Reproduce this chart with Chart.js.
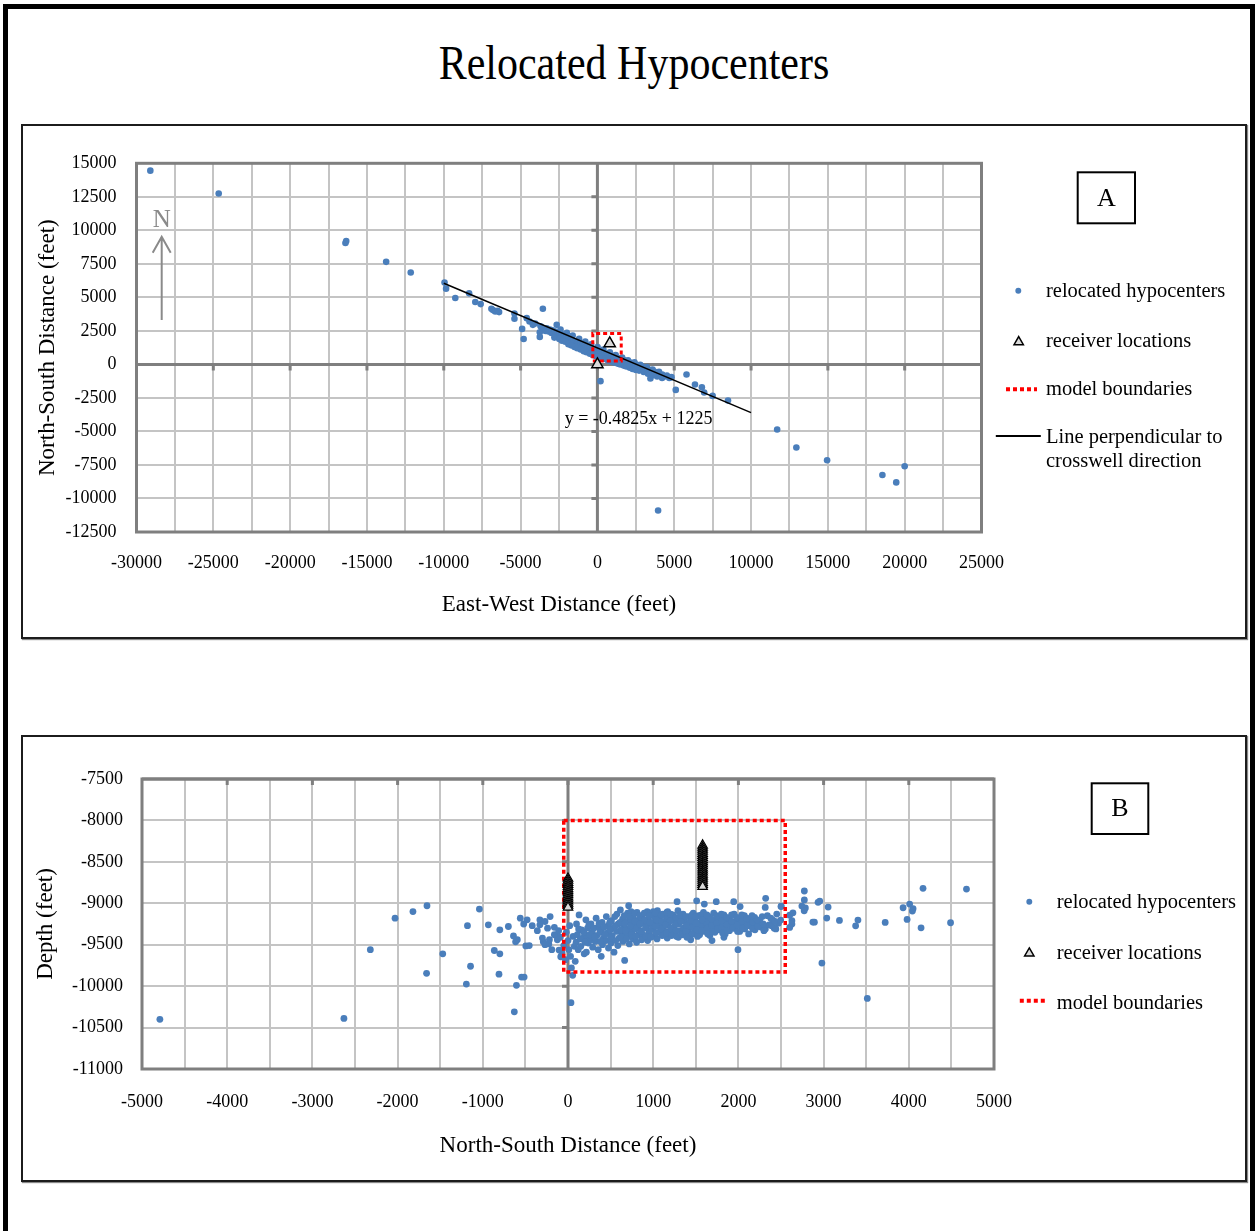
<!DOCTYPE html>
<html>
<head>
<meta charset="utf-8">
<title>Relocated Hypocenters</title>
<script src="https://cdn.jsdelivr.net/npm/chart.js@4.4.1/dist/chart.umd.min.js"></script>
<style>
  html, body { margin: 0; padding: 0; background: #fff; }
  body { width: 1257px; height: 1231px; position: relative; overflow: hidden;
         font-family: 'Liberation Serif', 'Times New Roman', serif; }
  #frame { position: absolute; left: 3px; top: 4px; width: 1252px; height: 1300px;
           border: 5px solid #000; border-bottom: none; box-sizing: border-box; }
  #title { position: absolute; left: 0; width: 1268px; top: 44px; text-align: center;
           font-size: 42px; line-height: 42px; color: #000;
           transform-origin: 50% 35px; transform: scaleY(1.15); }
  .panel { position: absolute; left: 21px; width: 1226px; border: 2px solid #1c1c1c;
           box-sizing: border-box; box-shadow: 1px 1px 1px #888; }
  #panelA { top: 124px; height: 515px; }
  #panelB { top: 735px; height: 447px; }
  canvas { position: absolute; left: 24px; }
  #planView { top: 127px; }
  #sectionView { top: 737px; }
</style>
</head>
<body>
<div id="frame"></div>
<div id="title">Relocated Hypocenters</div>
<div class="panel" id="panelA"></div>
<div class="panel" id="panelB"></div>
<canvas id="planView" width="1220" height="509"></canvas>
<canvas id="sectionView" width="1220" height="442"></canvas>
<script>
// ---------- Plan view (A): East-West vs North-South distance, feet ----------
const ewGrid = [-30000,-27500,-25000,-22500,-20000,-17500,-15000,-12500,-10000,-7500,-5000,-2500,0,2500,5000,7500,10000,12500,15000,17500,20000,22500,25000];
const ewLabels = [-30000,-25000,-20000,-15000,-10000,-5000,0,5000,10000,15000,20000,25000];
const nsTicksA = [15000,12500,10000,7500,5000,2500,0,-2500,-5000,-7500,-10000,-12500];

// relocated hypocenters [east-west, north-south]
const planHypocenters = [
  [-29100,14450],[-24650,12750],[-16400,9050],[-16350,9200],[-13750,7650],[-12150,6850],
  [-9950,6100],[-9850,5650],[-9250,4950],[-8350,5300],[-7950,4650],[-7600,4500],
  [-6900,4150],[-6800,4050],[-6650,3950],[-6500,4000],[-6400,3900],
  [-5400,3800],[-5400,3400],[-4900,2650],[-4800,1900],[-4600,3450],[-4420,3200],[-4200,2950],[-4050,3050],
  [-3550,4150],[-3750,2400],[-3750,2050],[-2650,2950],[-3700,2850],
  [-3600,2750],[-3480,2650],[-3380,2500],[-3300,2700],[-3180,2450],[-3090,2600],[-2990,2350],[-2920,2550],
  [-2840,2300],[-2760,2450],[-2690,2200],[-2600,2400],[-2520,2150],[-2440,2300],[-2380,2050],[-2300,2250],
  [-2210,2000],[-2150,2150],[-2060,1900],[-2000,2050],[-1940,1800],[-1880,1950],[-1820,1720],[-1760,1880],
  [-1700,1650],[-1640,1800],[-1590,1580],[-1530,1740],[-1470,1520],[-1420,1680],[-1360,1460],[-1300,1620],
  [-1250,1400],[-1190,1560],[-1130,1350],[-1080,1500],[-1020,1280],[-960,1450],[-910,1230],[-850,1390],
  [-800,1180],[-740,1340],[-690,1130],[-630,1290],[-580,1080],[-520,1240],[-460,1040],[-410,1190],
  [-350,990],[-300,1150],[-240,940],[-190,1100],[-130,900],[-80,1060],[-20,850],[30,1010],
  [80,800],[140,960],[190,760],[250,910],[300,710],[360,870],[410,660],[470,820],
  [520,610],[580,780],[630,560],[690,730],[740,510],[800,690],[850,470],[910,640],
  [960,420],[1020,600],[1070,370],[1130,550],[1180,330],[1240,500],[1290,280],[1350,460],
  [1400,240],[1460,410],[1510,190],[1570,370],[1620,150],[1680,320],[1730,100],[1790,280],
  [1850,60],[1900,230],[1960,10],[2020,190],[2080,-40],[2140,140],[2210,-90],[2280,90],
  [2350,-130],[2420,40],[2490,-180],[2560,-20],[2640,-230],[2720,-80],[2800,-280],[2890,-150],
  [2980,-330],[3070,-230],[3160,-420],[3260,-330],[3360,-520],[3470,-430],[3580,-620],[3700,-540],
  [3820,-720],[3950,-640],[4080,-820],[4220,-760],[4380,-900],[4520,-840],[4680,-1010],[4820,-950],
  [-2800,2000],[-2480,1900],[-2310,1760],[-2090,1690],[-1890,1510],[-1710,1420],[-1490,1300],[-1310,1210],
  [-1090,1110],[-890,990],[-710,910],[-490,800],[-310,710],[-90,600],[110,560],[290,450],
  [510,400],[690,300],[910,210],[1090,140],[1310,60],[1490,0],[1710,-90],[1890,-160],
  [2110,-250],[2290,-340],[2510,-410],[2710,-460],[3010,-560],[3290,-690],[3610,-800],[3890,-900],[4210,-1010],
  [-2400,2600],[-1990,2360],[-1610,2160],[-1190,1910],[-790,1710],[-410,1500],[10,1300],[390,1110],
  [810,900],[1190,700],[1610,510],[1990,310],[2410,160],[2790,-20],[3210,-200],[3590,-380],[4010,-560],
  [200,-1250],[3450,-1050],[5100,-1900],[5800,-750],[6350,-1500],[6800,-1700],[6950,-2100],
  [7500,-2350],[8500,-2700],[11700,-4850],[12950,-6200],[14950,-7150],[18550,-8250],
  [19450,-8800],[20000,-7600],[3950,-10900]
];
const planReceivers = [[0, 0], [800, 1560]];
const planModelEW = [-300, 1550];
const planModelNS = [250, 2300];
// trendline stated on the chart: y = -0.4825x + 1225
const trendSlope = -0.4825;
const trendIntercept = 1225;
const trendEW = [-10000, 10000];
const equationAnchor = [-2130, -4080];
const legendTextA = ['relocated hypocenters', 'receiver locations', 'model boundaries',
                     ['Line perpendicular to', 'crosswell direction']];

// ---------- Cross section (B): North-South distance vs depth, feet ----------
const nsGridB = [-5000,-4500,-4000,-3500,-3000,-2500,-2000,-1500,-1000,-500,0,500,1000,1500,2000,2500,3000,3500,4000,4500,5000];
const nsLabelsB = [-5000,-4000,-3000,-2000,-1000,0,1000,2000,3000,4000,5000];
const depthTicks = [-7500,-8000,-8500,-9000,-9500,-10000,-10500,-11000];

// relocated hypocenters [north-south, depth]
const sectionHypocenters = [
  [-4790,-10400],[-2630,-10390],[-2320,-9560],[-2030,-9180],[-1820,-9100],[-1655,-9030],[-1660,-9845],
  [-1470,-9610],[-1180,-9270],[-1144,-9760],[-1193,-9975],[-1040,-9070],[-935,-9260],[-865,-9570],
  [-810,-9855],[-800,-9610],[-800,-9320],[-700,-9280],[-640,-9395],[-615,-9465],[-595,-9440],
  [-630,-10310],[-605,-9990],[-545,-9890],[-515,-9890],[-495,-9515],[-455,-9510],[-480,-9200],
  [-560,-9180],[-520,-9250],[-420,-9270],[-360,-9330],[-330,-9200],[-290,-9465],[-270,-9220],
  [-225,-9490],[-218,-9440],[-210,-9160],[-160,-9290],[-145,-9385],[-125,-9440],[-105,-9565],[-85,-9645],
  [-330,-9260],[-300,-9420],[-270,-9500],[-240,-9300],[-190,-9560],[-160,-9380],[-110,-9330],
  [-90,-9410],[-70,-9600],[-50,-9510],[-30,-9680],[-20,-9350],[0,-9450],[10,-9560],[20,-9270],
  [30,-9640],[40,-9780],[55,-9870],[35,-10200],[60,-9400],[75,-9520],[85,-9700],
  [100,-9250],[110,-9380],[95,-9470],[120,-9560],[130,-9140],
  [160,-9320],[175,-9420],[150,-9520],[190,-9610],
  [210,-9200],[230,-9300],[220,-9400],[240,-9480],[215,-9590],
  [270,-9250],[285,-9350],[260,-9440],[290,-9530],
  [330,-9180],[350,-9290],[340,-9390],[320,-9460],[355,-9560],
  [400,-9230],[390,-9330],[415,-9420],[405,-9500],[390,-9640],
  [450,-9160],[470,-9270],[460,-9360],[445,-9450],[475,-9540],
  [510,-9210],[530,-9300],[520,-9390],[505,-9480],[540,-9590],
  [575,-9130],[590,-9250],[570,-9340],[600,-9420],[585,-9510],
  [615,-9080],[640,-9190],[655,-9280],[630,-9370],[645,-9460],[665,-9690],
  [700,-9120],[690,-9220],[715,-9310],[705,-9400],[720,-9490],[712,-9030],
  [760,-9170],[775,-9260],[750,-9350],[765,-9430],
  [810,-9110],[830,-9200],[815,-9290],[825,-9380],[805,-9470],
  [870,-9150],[885,-9240],[860,-9330],[890,-9410],
  [930,-9100],[945,-9190],[920,-9280],[950,-9360],[935,-9450],
  [990,-9140],[1010,-9230],[995,-9310],[1005,-9400],
  [1050,-9090],[1070,-9180],[1055,-9270],[1065,-9350],[1045,-9430],
  [1110,-9130],[1130,-9220],[1115,-9300],[1125,-9380],
  [1170,-9100],[1190,-9170],[1175,-9260],[1185,-9340],[1165,-9420],
  [1230,-9140],[1250,-9210],[1235,-9290],[1245,-9370],[1280,-8980],
  [1290,-9090],[1310,-9180],[1300,-9250],[1315,-9330],[1295,-9410],
  [1350,-9130],[1370,-9220],[1355,-9300],[1365,-9370],
  [1410,-9160],[1430,-9240],[1415,-9320],[1425,-9390],[1440,-9440],
  [1470,-9120],[1490,-9200],[1475,-9280],[1485,-9350],[1510,-8970],
  [1530,-9150],[1550,-9230],[1535,-9310],[1545,-9380],
  [1590,-9110],[1610,-9190],[1595,-9270],[1605,-9340],[1600,-9010],
  [1650,-9160],[1670,-9240],[1655,-9310],[1665,-9390],[1690,-9450],
  [1710,-9120],[1730,-9210],[1715,-9280],[1725,-9350],[1740,-8980],
  [1770,-9170],[1790,-9250],[1775,-9320],
  [1830,-9140],[1850,-9220],[1835,-9300],[1845,-9370],[1830,-9410],
  [1890,-9180],[1910,-9260],[1895,-9330],[1945,-8980],
  [1950,-9130],[1970,-9230],[1955,-9300],[1995,-9560],
  [2010,-9190],[2030,-9270],[2015,-9340],[2020,-9040],
  [2070,-9150],[2090,-9240],[2075,-9310],
  [2130,-9200],[2150,-9280],[2120,-9370],
  [2190,-9170],[2210,-9250],[2195,-9320],
  [2250,-9220],[2270,-9290],[2320,-8940],[2315,-9050],[2316,-9310],
  [2340,-9150],[2360,-9260],[2400,-9200],[2420,-9300],[2450,-9130],[2470,-9240],[2500,-9040],
  [730,-9230],[790,-9310],[850,-9190],[905,-9250],[960,-9330],[1020,-9170],[1080,-9250],
  [1140,-9340],[1200,-9210],[1260,-9260],[1330,-9190],[1390,-9270],[1450,-9200],[1560,-9270],
  [1620,-9230],[680,-9360],[740,-9100],[880,-9380],[1000,-9100],[1150,-9150],[980,-9260],[1090,-9310],
  [125,-9310],[145,-9430],[185,-9350],[200,-9470],[245,-9260],[255,-9380],[300,-9300],[310,-9410],
  [365,-9240],[375,-9350],[380,-9460],[425,-9290],[435,-9380],[490,-9230],[495,-9320],[500,-9420],
  [550,-9160],[555,-9270],[560,-9450],[610,-9230],[620,-9320],[625,-9410],[660,-9150],[670,-9240],
  [675,-9330],[685,-9430],[725,-9160],[735,-9270],[745,-9380],[780,-9120],[785,-9220],[795,-9400],
  [840,-9150],[845,-9250],[855,-9340],[865,-9440],[895,-9120],[900,-9200],[910,-9300],[915,-9400],
  [955,-9150],[965,-9230],[970,-9410],[1025,-9120],[1030,-9280],[1035,-9360],[1040,-9200],[1095,-9140],
  [1100,-9220],[1105,-9390],[1145,-9260],[1155,-9360],[1160,-9110],[1205,-9130],[1210,-9300],[1215,-9390],
  [1265,-9170],[1270,-9330],[1275,-9400],[1320,-9140],[1325,-9220],[1340,-9380],[1380,-9160],[1385,-9340],
  [1395,-9410],[1455,-9140],[1460,-9290],[1465,-9370],[1500,-9160],[1505,-9240],[1515,-9320],[1520,-9400],
  [1565,-9140],[1570,-9330],[1575,-9200],[1630,-9140],[1635,-9300],[1640,-9370],[1680,-9190],[1685,-9270],
  [1695,-9340],[1745,-9150],[1750,-9240],[1755,-9310],[1800,-9130],[1805,-9210],[1810,-9290],[1815,-9360],
  [1860,-9170],[1865,-9260],[1870,-9330],[1920,-9140],[1925,-9220],[1930,-9300],[1980,-9170],[1985,-9260],
  [1990,-9340],[2040,-9140],[2045,-9220],[2050,-9300],[2100,-9180],[2105,-9270],[2160,-9150],[2165,-9230],
  [2170,-9310],[2220,-9200],[2230,-9280],[2280,-9160],[2290,-9250],[2300,-9330],[2380,-9180],[2390,-9270],
  [2430,-9220],[2440,-9310],
  [2503,-9034],[2602,-9143],[2640,-9115],[2628,-9211],[2628,-9251],[2602,-9291],[2496,-9203],
  [2774,-8852],[2774,-8960],[2935,-8988],[2892,-9228],[2786,-9056],[2955,-8973],[2745,-9034],
  [2772,-9090],[3053,-9046],[3037,-9179],[2874,-9227],[3186,-9207],[3403,-9203],[3376,-9272],
  [3723,-9231],[3933,-9054],[4010,-9010],[4050,-9066],[4042,-9094],[3980,-9195],[4144,-9296],
  [4167,-8820],[4490,-9235],[4677,-8828],[2980,-9722],[3513,-10148]
];
// receiver strings in the two wells [north-south position, depths]
const westWellNS = 0;
const westWellDepths = [-8700,-8725,-8750,-8775,-8800,-8825,-8850,-8875,-8900,-8925,-8950,-8975,-9000,-9025,-9050];
const eastWellNS = 1580;
const eastWellDepths = [-8300,-8325,-8350,-8375,-8400,-8425,-8450,-8475,-8500,-8525,-8550,-8575,-8600,-8625,-8650,-8675,-8700,-8725,-8750,-8775,-8800];
const sectionModelNS = [-50, 2550];
const sectionModelDepth = [-8000, -9830];
const legendTextB = ['relocated hypocenters', 'receiver locations', 'model boundaries'];

// ---------- shared styling ----------
const SERIF = "'Liberation Serif', 'Times New Roman', serif";
const DOT = '#4a7ebb';
const GRID = '#c4c4c4';
const AXIS = '#7f7f7f';

const toXY = pts => pts.map(([x, y]) => ({x, y}));
const rectPath = (xr, yr) => [
  {x: xr[0], y: yr[0]}, {x: xr[1], y: yr[0]}, {x: xr[1], y: yr[1]},
  {x: xr[0], y: yr[1]}, {x: xr[0], y: yr[0]}
];

// Axis lines through the origin, their tick marks, and the plot-area frame
const crossAxes = {
  id: 'crossAxes',
  beforeDatasetsDraw(chart, args, o) {
    const {ctx, chartArea: a, scales: {x, y}} = chart;
    ctx.save();
    ctx.strokeStyle = AXIS;
    ctx.lineWidth = 3;
    const hy = y.getPixelForValue(o.xAxisAt);
    const vx = x.getPixelForValue(o.yAxisAt);
    ctx.beginPath();
    ctx.moveTo(a.left, hy); ctx.lineTo(a.right, hy);
    ctx.moveTo(vx, a.top); ctx.lineTo(vx, a.bottom);
    ctx.stroke();
    ctx.beginPath();
    o.xMarks.forEach(v => { const px = x.getPixelForValue(v); ctx.moveTo(px, hy); ctx.lineTo(px, hy + 6); });
    o.yMarks.forEach(v => { const py = y.getPixelForValue(v); ctx.moveTo(vx - 6, py); ctx.lineTo(vx, py); });
    ctx.stroke();
    ctx.strokeRect(a.left, a.top, a.right - a.left, a.bottom - a.top);
    ctx.restore();
  }
};

function drawMarker(ctx, ds, x, y, w, r) {
  ctx.save();
  if (ds.showLine) {
    ctx.strokeStyle = ds.borderColor;
    ctx.lineWidth = ds.legendLineWidth || ds.borderWidth;
    ctx.setLineDash(ds.borderDash || []);
    ctx.beginPath(); ctx.moveTo(x - w / 2, y); ctx.lineTo(x + w / 2, y); ctx.stroke();
  } else if (ds.pointStyle === 'triangle') {
    ctx.fillStyle = ds.backgroundColor; ctx.strokeStyle = ds.borderColor; ctx.lineWidth = 1.5;
    ctx.beginPath();
    ctx.moveTo(x, y - r);
    ctx.lineTo(x + r * 0.866, y + r * 0.5);
    ctx.lineTo(x - r * 0.866, y + r * 0.5);
    ctx.closePath(); ctx.fill(); ctx.stroke();
  } else {
    ctx.fillStyle = ds.backgroundColor;
    ctx.beginPath(); ctx.arc(x, y, r * 0.55, 0, Math.PI * 2); ctx.fill();
  }
  ctx.restore();
}

// Panel tag, side legend, north arrow and equation label
const panelDecor = {
  id: 'panelDecor',
  afterDraw(chart, args, o) {
    const {ctx, scales: {x, y}} = chart;
    ctx.save();
    // panel tag
    const t = o.tag;
    ctx.strokeStyle = '#000'; ctx.lineWidth = 2;
    ctx.strokeRect(t.x, t.y, t.w, t.h);
    ctx.fillStyle = '#000';
    ctx.font = `26px ${SERIF}`;
    ctx.textAlign = 'center'; ctx.textBaseline = 'middle';
    ctx.fillText(t.text, t.x + t.w / 2, t.y + t.h / 2 + 1);
    // legend entries
    ctx.font = `20.5px ${SERIF}`;
    ctx.textAlign = 'left';
    o.items.forEach(it => {
      const ds = chart.data.datasets[it.dataset];
      drawMarker(ctx, ds, it.mx, it.my, it.mw, 5.4);
      const lines = Array.isArray(it.text) ? it.text : [it.text];
      lines.forEach((ln, i) => ctx.fillText(ln, o.textX, it.ty + i * 24));
    });
    // north arrow
    if (o.north) {
      const n = o.north;
      ctx.strokeStyle = '#8a8a8a'; ctx.fillStyle = '#8a8a8a'; ctx.lineWidth = 2;
      ctx.font = `25px ${SERIF}`; ctx.textAlign = 'center';
      ctx.fillText('N', n.x, n.textY);
      ctx.beginPath();
      ctx.moveTo(n.x, n.tail); ctx.lineTo(n.x, n.tip);
      ctx.moveTo(n.x - 9, n.tip + 16); ctx.lineTo(n.x, n.tip); ctx.lineTo(n.x + 9, n.tip + 16);
      ctx.stroke();
    }
    // trendline equation, anchored in data coordinates
    if (o.equation) {
      ctx.fillStyle = '#000'; ctx.font = `18px ${SERIF}`; ctx.textAlign = 'left';
      ctx.fillText(o.equation.text, x.getPixelForValue(o.equation.at[0]), y.getPixelForValue(o.equation.at[1]));
    }
    ctx.restore();
  }
};

function linearAxis(cfg) {
  return {
    type: 'linear', min: cfg.min, max: cfg.max,
    afterBuildTicks: s => { s.ticks = cfg.grid.map(v => ({value: v})); },
    afterFit: s => { if (cfg.width) s.width = cfg.width; if (cfg.height) s.height = cfg.height; },
    ticks: {
      autoSkip: false, maxRotation: 0, color: '#000', padding: cfg.padding,
      font: {family: SERIF, size: 18},
      callback: v => cfg.labels.includes(v) ? String(v) : ''
    },
    grid: {color: GRID, lineWidth: 2, drawTicks: false},
    border: {display: false},
    title: {display: true, text: cfg.title, color: '#000', font: {family: SERIF, size: 23},
            padding: cfg.titlePad}
  };
}

Chart.defaults.font.family = SERIF;

new Chart(document.getElementById('planView'), {
  type: 'scatter',
  data: {
    datasets: [
      {label: 'receiver locations', data: toXY(planReceivers), pointStyle: 'triangle', pointRadius: 6.5,
       backgroundColor: '#d9d9d9', borderColor: '#000', borderWidth: 1.5, order: 0},
      {label: 'model boundaries', data: rectPath(planModelEW, planModelNS), showLine: true,
       borderColor: '#ff0000', borderWidth: 3, legendLineWidth: 4, borderDash: [4, 3], pointRadius: 0, order: 1},
      {label: 'Line perpendicular to crosswell direction',
       data: trendEW.map(v => ({x: v, y: trendSlope * v + trendIntercept})), showLine: true,
       borderColor: '#000', borderWidth: 1.5, legendLineWidth: 2, pointRadius: 0, order: 2},
      {label: 'relocated hypocenters', data: toXY(planHypocenters), pointRadius: 3.3,
       backgroundColor: DOT, borderWidth: 0, order: 3}
    ]
  },
  options: {
    responsive: false, animation: false, devicePixelRatio: 1, events: [],
    layout: {padding: {left: 0, top: 36.3, right: 262.5, bottom: 0}},
    scales: {
      x: linearAxis({min: -30000, max: 25000, grid: ewGrid, labels: ewLabels, padding: 20, height: 104,
                     title: 'East-West Distance (feet)', titlePad: {top: 0, bottom: 17}}),
      y: linearAxis({min: -12500, max: 15000, grid: nsTicksA, labels: nsTicksA, padding: 20, width: 112.5,
                     title: 'North-South Distance (feet)', titlePad: {top: 10, bottom: 0}})
    },
    plugins: {
      legend: {display: false}, tooltip: {enabled: false},
      crossAxes: {xAxisAt: 0, yAxisAt: 0, xMarks: ewLabels.slice(1, -1), yMarks: nsTicksA.slice(1, -1)},
      panelDecor: {
        tag: {x: 1053.7, y: 45.3, w: 57.3, h: 51, text: 'A'},
        textX: 1022,
        items: [
          {dataset: 3, text: legendTextA[0], mx: 994.3, my: 163.7, mw: 0, ty: 165},
          {dataset: 0, text: legendTextA[1], mx: 994.7, my: 215, mw: 0, ty: 215},
          {dataset: 1, text: legendTextA[2], mx: 997.5, my: 262.3, mw: 31, ty: 263},
          {dataset: 2, text: legendTextA[3], mx: 994.3, my: 309, mw: 45, ty: 311}
        ],
        north: {x: 137.7, textY: 93, tip: 109.7, tail: 193},
        equation: {text: `y = ${trendSlope}x + ${trendIntercept}`, at: equationAnchor}
      }
    }
  },
  plugins: [crossAxes, panelDecor]
});

new Chart(document.getElementById('sectionView'), {
  type: 'scatter',
  data: {
    datasets: [
      {label: 'receiver locations',
       data: westWellDepths.map(d => ({x: westWellNS, y: d})).concat(eastWellDepths.map(d => ({x: eastWellNS, y: d}))),
       pointStyle: 'triangle', pointRadius: 5.5, backgroundColor: '#d9d9d9', borderColor: '#000', borderWidth: 1.2, order: 0},
      {label: 'model boundaries', data: rectPath(sectionModelNS, sectionModelDepth), showLine: true,
       borderColor: '#ff0000', borderWidth: 3.5, legendLineWidth: 4, borderDash: [4, 3], pointRadius: 0, order: 1},
      {label: 'relocated hypocenters', data: toXY(sectionHypocenters), pointRadius: 3.4,
       backgroundColor: DOT, borderWidth: 0, order: 2}
    ]
  },
  options: {
    responsive: false, animation: false, devicePixelRatio: 1, events: [],
    layout: {padding: {left: 0, top: 42, right: 250, bottom: 0}},
    scales: {
      x: linearAxis({min: -5000, max: 5000, grid: nsGridB, labels: nsLabelsB, padding: 22, height: 110,
                     title: 'North-South Distance (feet)', titlePad: {top: 0, bottom: 19}}),
      y: linearAxis({min: -11000, max: -7500, grid: depthTicks, labels: depthTicks, padding: 19, width: 118,
                     title: 'Depth (feet)', titlePad: {top: 8, bottom: 0}})
    },
    plugins: {
      legend: {display: false}, tooltip: {enabled: false},
      crossAxes: {xAxisAt: -7500, yAxisAt: 0, xMarks: nsLabelsB.slice(1, -1), yMarks: depthTicks.slice(1, -1)},
      panelDecor: {
        tag: {x: 1067.7, y: 46.3, w: 56.6, h: 50.7, text: 'B'},
        textX: 1032.7,
        items: [
          {dataset: 2, text: legendTextB[0], mx: 1005.3, my: 164.7, mw: 0, ty: 166},
          {dataset: 0, text: legendTextB[1], mx: 1005.3, my: 216.3, mw: 0, ty: 216.5},
          {dataset: 1, text: legendTextB[2], mx: 1008.8, my: 263.7, mw: 26, ty: 266.5}
        ]
      }
    }
  },
  plugins: [crossAxes, panelDecor]
});
</script>
</body>
</html>
